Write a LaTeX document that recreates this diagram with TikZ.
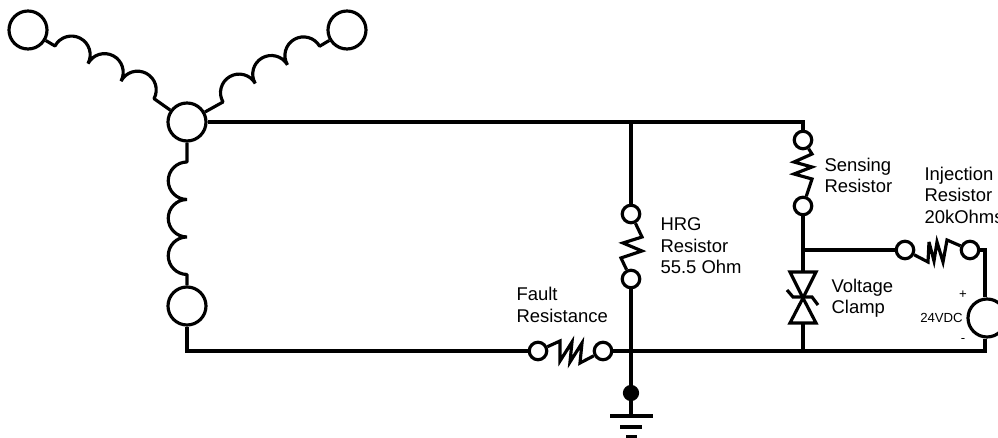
\documentclass[tikz,border=0pt]{standalone}
\usepackage{fontspec}
\setmainfont{Liberation Sans}
\begin{document}
\begin{tikzpicture}[x=0.02cm, y=-0.02cm, line width=1.8pt, line join=miter, miter limit=6,
				    label/.style={align=left, inner sep=0pt, anchor=west, text=black,
				    			  font=\fontsize{10.5}{12.2}\selectfont},
				    small/.style={inner sep=0pt, text=black, font=\fontsize{7.5}{9}\selectfont},
				    winding/.style={draw, circle, fill=white, inner sep=0pt, minimum size=0.76cm},
				    terminal/.style={draw, circle, fill=white, inner sep=0pt, minimum size=0.35cm},
				    dot/.style={draw, circle, fill=black, inner sep=0pt, minimum size=0.26cm},
				    coil/.style={line join=bevel}]
	\clip (0, 0) rectangle (998, 438);

	\node[winding] (w1) at (28, 30) {};
	\node[winding] (w2) at (347, 30) {};
	\node[winding] (star) at (187, 122) {};
	\node[winding] (w3) at (187, 306) {};
	\node[winding] (src) at (987, 318) {};

	\node[terminal] (s1) at (803, 140) {};
	\node[terminal] (s2) at (803, 206) {};
	\node[terminal] (h1) at (631, 214) {};
	\node[terminal] (h2) at (631, 279) {};
	\node[terminal] (f1) at (538, 351) {};
	\node[terminal] (f2) at (603, 351) {};
	\node[terminal] (i1) at (905, 250) {};
	\node[terminal] (i2) at (970, 250) {};
	\node[dot] (gnd) at (631, 393) {};

	\coordinate (j1) at (631, 122);
	\coordinate (j2) at (803, 122);
	\coordinate (j3) at (631, 351);
	\coordinate (j4) at (803, 351);
	\coordinate (j5) at (803, 250);
	\coordinate (j6) at (985, 351);
	\coordinate (j7) at (985, 250);
	\coordinate (z1) at (803, 272);
	\coordinate (z2) at (803, 298);
	\coordinate (z3) at (803, 323);
	\coordinate (g1) at (631, 416);

	% windings
	\draw[coil] (w1) -- (55, 46) arc[start angle=152, end angle=-28, radius=0.374cm]
		arc[start angle=152, end angle=-28, radius=0.374cm]
		arc[start angle=152, end angle=-28, radius=0.374cm] -- (star);
	\draw[coil] (star) -- (223, 102) arc[start angle=210, end angle=30, radius=0.372cm]
		arc[start angle=210, end angle=30, radius=0.372cm]
		arc[start angle=210, end angle=30, radius=0.372cm] -- (w2);
	\draw[coil] (star) -- (187, 162) arc[start angle=90, end angle=270, radius=0.375cm]
		arc[start angle=90, end angle=270, radius=0.375cm]
		arc[start angle=90, end angle=270, radius=0.375cm] -- (w3);

	% wires
	\draw (star) -- (j1) -- (j2) -- (s1);
	\draw (j1) -- (h1);
	\draw (h2) -- (gnd);
	\draw (w3) |- (f1);
	\draw (f2) -- (j3) -- (j4) -- (j6) -- (src.south -| j6);
	\draw (s2) -- (z1);
	\draw (j5) -- (i1);
	\draw (i2) -- (j7) -- (src.north -| j7);
	\draw (z3) -- (j4);
	\draw (gnd) -- (g1);

	% resistors
	\draw (s1) -- (812, 154) -- (794, 162) -- (812, 167) -- (794, 174) -- (812, 179) -- (s2);
	\draw (h1) -- (642, 237) -- (623, 243) -- (642, 251) -- (621, 258) -- (h2);
	\draw (f1) -- (560, 341) -- (560, 361) -- (572, 342) -- (570, 362) -- (582, 343) -- (580, 363) -- (f2);
	\draw (i1) -- (928, 262) -- (929, 242) -- (934, 261) -- (937, 242) -- (943, 262) -- (947, 240) -- (i2);

	% clamp
	\draw (z1) -- (790, 272) -- (z2) -- (816, 272) -- cycle;
	\draw (z3) -- (790, 323) -- (z2) -- (816, 323) -- cycle;
	\draw (787, 290) -- (793, 297) -- (812, 297) -- (818, 305);

	% ground
	\draw (610, 416) -- (g1) -- (653, 416);
	\draw (620, 427) -- (642, 427);
	\draw (626, 437) -- (637, 437);

	\node[label] (t1) at (823, 175.5) {Sensing\\Resistor};
	\node[label] (t2) at (923, 195) {Injection\\Resistor\\20kOhms};
	\node[label] (t3) at (659, 246) {HRG\\Resistor\\55.5 Ohm};
	\node[label] (t4) at (830, 298) {Voltage\\Clamp};
	\node[label] (t5) at (515, 305) {Fault\\Resistance};
	\node[small] (t6) at (941.5, 318) {24VDC};
	\node[small] (t7) at (963, 295) {+};
	\node[small] (t8) at (963, 340) {-};
\end{tikzpicture}
\end{document}
